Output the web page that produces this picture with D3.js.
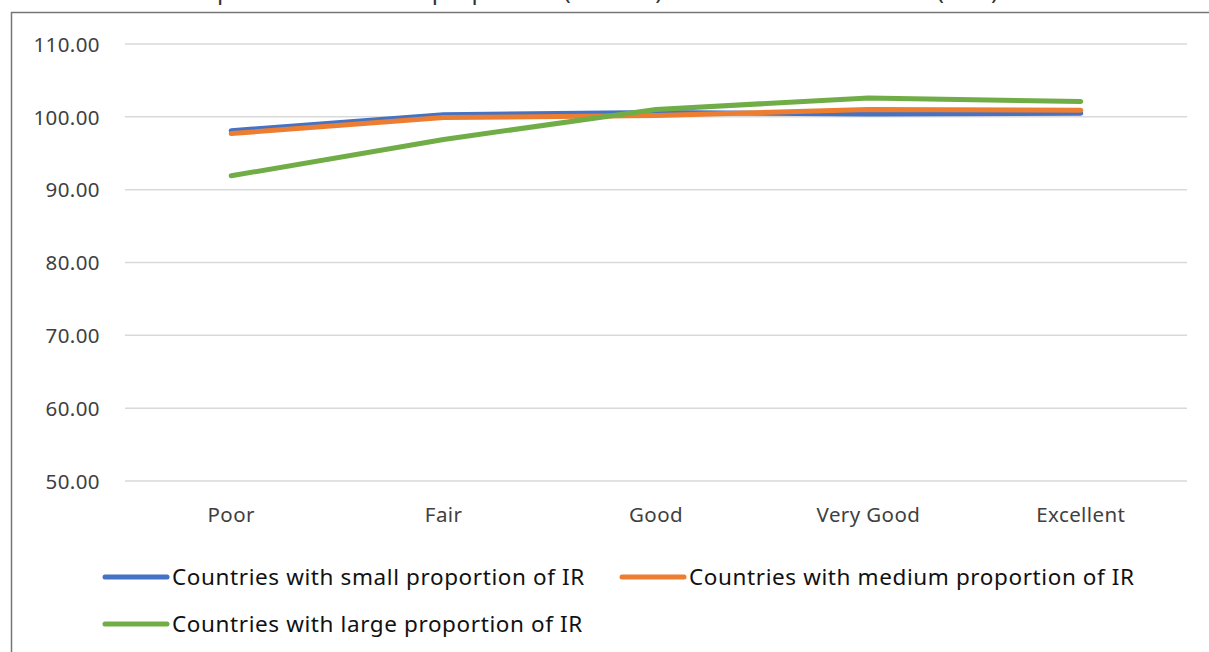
<!DOCTYPE html>
<html>
<head>
<meta charset="utf-8">
<script src="https://cdn.jsdelivr.net/npm/d3@7"></script>
<style>
  html, body { margin: 0; padding: 0; background: #fff; }
  svg { display: block; }
  text { font-family: "Noto Sans", "Open Sans", sans-serif; }
</style>
</head>
<body>
<svg id="chart" width="1209" height="652"></svg>
<script>
// ---- data ----
const categories = ["Poor", "Fair", "Good", "Very Good", "Excellent"];
const seriesNames = [
  "Countries with small proportion of IR",
  "Countries with medium proportion of IR",
  "Countries with large proportion of IR"
];
const smallIR  = [98.1, 100.3, 100.6, 100.4, 100.5];
const mediumIR = [97.7, 99.9, 100.2, 101.0, 100.9];
const largeIR  = [91.9, 96.9, 101.0, 102.6, 102.1];
const yTicks = [50, 60, 70, 80, 90, 100, 110];
const colors = ["#4472C4", "#ED7D31", "#70AD47"];
// the title is cut off at the top of the picture
const titleText = "Self-reported health and proportion (in 2010) of IR and health status (SRH)";

const series = [smallIR, mediumIR, largeIR].map((v, i) => ({ name: seriesNames[i], values: v, color: colors[i] }));

const svg = d3.select("#chart");

// frame (extends past the visible area)
svg.append("rect")
  .attr("x", 11.5).attr("y", 12.5)
  .attr("width", 1400).attr("height", 800)
  .attr("fill", "none").attr("stroke", "#767676").attr("stroke-width", 1.5);

// title (mostly cut off above the view)
svg.append("text")
  .attr("x", 143).attr("y", -1)
  .attr("font-size", 24)
  .attr("letter-spacing", "0.3px")
  .attr("fill", "#333")
  .text(titleText);

const x = d3.scaleBand().domain(categories).range([125, 1187]);
const y = d3.scaleLinear().domain([50, 110]).range([481, 44]);

// gridlines
svg.append("g").selectAll("line").data(yTicks).join("line")
  .attr("x1", 125).attr("x2", 1187)
  .attr("y1", d => y(d)).attr("y2", d => y(d))
  .attr("stroke", "#d9d9d9").attr("stroke-width", 1.5);

// y axis labels
const yAxis = d3.axisLeft(y).tickValues(yTicks).tickFormat(d3.format(".2f")).tickSize(0).tickPadding(0);
const gy = svg.append("g").attr("transform", "translate(100,0)").call(yAxis);
gy.select(".domain").remove();
gy.selectAll("text").attr("font-size", 20.5).attr("fill", "#404040")
  .attr("letter-spacing", "0.4px")
  .attr("font-family", "'Noto Sans', sans-serif").attr("dy", "0.35em");

// x axis labels
const xAxis = d3.axisBottom(x).tickSize(0).tickPadding(0);
const gx = svg.append("g").attr("transform", "translate(0,515)").call(xAxis);
gx.select(".domain").remove();
gx.selectAll("text").attr("font-size", 20.5).attr("fill", "#404040")
  .attr("letter-spacing", "0.4px")
  .attr("font-family", "'Noto Sans', sans-serif").attr("dy", "0.35em");

// lines
const line = d3.line()
  .x((d, i) => x(categories[i]) + x.bandwidth() / 2)
  .y(d => y(d));

svg.append("g").selectAll("path").data(series).join("path")
  .attr("d", d => line(d.values))
  .attr("fill", "none")
  .attr("stroke", d => d.color)
  .attr("stroke-width", 5)
  .attr("stroke-linecap", "round")
  .attr("stroke-linejoin", "round");

// legend
const legendPos = [
  { lx: 105, ly: 577 },
  { lx: 622, ly: 577 },
  { lx: 105, ly: 624 }
];
const lg = svg.append("g").selectAll("g").data(series).join("g")
  .attr("transform", (d, i) => `translate(${legendPos[i].lx},${legendPos[i].ly})`);
lg.append("line")
  .attr("x1", 0).attr("x2", 62).attr("y1", 0).attr("y2", 0)
  .attr("stroke", d => d.color).attr("stroke-width", 5).attr("stroke-linecap", "round");
lg.append("text")
  .attr("x", 67).attr("y", 0).attr("dy", "0.35em")
  .attr("font-size", 22.5).attr("fill", "#111")
  .attr("letter-spacing", "0.6px")
  .text(d => d.name);
</script>
</body>
</html>
